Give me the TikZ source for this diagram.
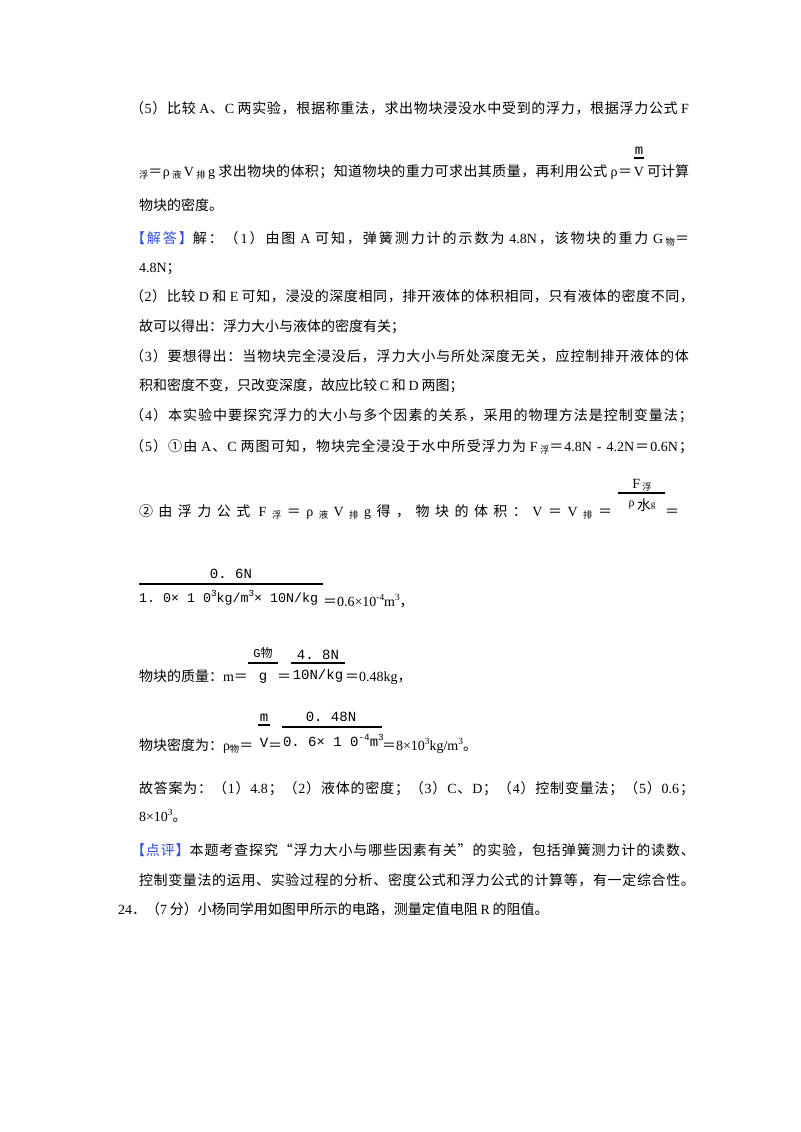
\documentclass[tikz,border=0pt]{standalone}
\usepackage{fontspec}
\setmainfont{Liberation Serif}
\setmonofont{Liberation Mono}
\newfontfamily\cjkf{Noto Sans CJK SC}
\definecolor{hdr}{RGB}{45,75,230}
\newXeTeXintercharclass\CJKid
\newXeTeXintercharclass\CJKpu
\newcount\cjkcnt
\def\setcjkrange#1#2#3{\cjkcnt=#1\relax\loop\XeTeXcharclass\cjkcnt=#3\advance\cjkcnt by 1\relax\ifnum\cjkcnt<#2\repeat}
\setcjkrange{"3000}{"3040}{\CJKpu}
\setcjkrange{"4E00}{"A000}{\CJKid}
\setcjkrange{"FF00}{"FFF0}{\CJKpu}
\setcjkrange{"2460}{"2474}{\CJKpu}
\XeTeXcharclass"201C=\CJKpu
\XeTeXcharclass"201D=\CJKpu
\def\curlat{\rmfamily}
\newcommand\cjkglue{\hskip0pt plus 1pt\relax}
\newcommand\mixglue{\hskip0.2em plus 1pt\relax}
\XeTeXinterchartoks 0 \CJKid = {\mixglue\cjkf}
\XeTeXinterchartoks \CJKid 0 = {\mixglue\curlat}
\XeTeXinterchartoks 0 \CJKpu = {\cjkglue\cjkf}
\XeTeXinterchartoks \CJKpu 0 = {\cjkglue\curlat}
\XeTeXinterchartoks 4095 \CJKid = {\cjkf}
\XeTeXinterchartoks 4095 \CJKpu = {\cjkf}
\XeTeXinterchartoks \CJKid 4095 = {\curlat}
\XeTeXinterchartoks \CJKpu 4095 = {\curlat}
\XeTeXinterchartoks 4095 0 = {\curlat}
\XeTeXinterchartoks \CJKid \CJKid = {\cjkglue}
\XeTeXinterchartoks \CJKid \CJKpu = {\cjkglue}
\XeTeXinterchartoks \CJKpu \CJKid = {\cjkglue}
\XeTeXinterchartoks \CJKpu \CJKpu = {\cjkglue}
\XeTeXinterchartokenstate=1
\newdimen\upx \upx=0.75pt
\newcommand\fs{\fontsize{10.5pt}{12pt}\selectfont}
\newcommand\jw[2]{\makebox[#1\upx][s]{#2}}
\newcommand\sub[1]{\raisebox{-1.5pt}{\fontsize{7pt}{8pt}\selectfont #1}}
\newcommand\sps[1]{\raisebox{3.8pt}{\fontsize{7pt}{8pt}\selectfont #1}}
\newcommand\mono{\def\curlat{\ttfamily}\ttfamily}
\newcommand\g{\hskip0pt plus 1pt\relax}
\newcommand\sg{\hskip1.5pt plus 1pt\relax}
\tikzset{
  tx/.style={anchor=base west,inner sep=0pt,outer sep=0pt,font=\fs},
  ctx/.style={tx,anchor=base},
  bar/.style={line width=0.8pt}
}
\begin{document}
\begin{tikzpicture}[x=0.75pt,y=-0.75pt]
\useasboundingbox (0,0) rectangle (800,1132);
\fill[white] (0,0) rectangle (800,1132);
% (5) analysis
\node[tx] (l1) at (130,113) {\jw{559}{（5）比较A、C两实验，根据称重法，求出物块浸没水中受到的浮力，根据浮力公式F}};
\node[tx] (l2a) at (139,176) {\jw{493}{\sub{浮}＝ρ\sg\sub{液}\sg V\sg\sub{排}\sg g求出物块的体积；知道物块的重力可求出其质量，再利用公式ρ＝}};
\node[ctx] (l2v) at (639,176) {V};
\node[ctx] (l2m) at (639,154) {\mono m};
\coordinate (b2a) at (634,158); \coordinate (b2b) at (644,158);
\draw[bar] (b2a) -- (b2b);
\node[tx,anchor=base east] (l2b) at (689,176) {可计算};
\node[tx] (l3) at (139,210) {物块的密度。};
% solution
\node[tx] (l4) at (131,243) {\jw{558}{\textcolor{hdr}{【解答】}解：（1）由图A可知，弹簧测力计的示数为4.8N，该物块的重力G\,\sub{物}＝}};
\node[tx] (l5) at (139,272) {4.8N；};
\node[tx] (l6) at (130,301) {\jw{564}{（2）比较D和E可知，浸没的深度相同，排开液体的体积相同，只有液体的密度不同，}};
\node[tx] (l7) at (139,331) {故可以得出：浮力大小与液体的密度有关；};
\node[tx] (l8) at (130,361) {\jw{559}{（3）要想得出：当物块完全浸没后，浮力大小与所处深度无关，应控制排开液体的体}};
\node[tx] (l9) at (139,390) {积和密度不变，只改变深度，故应比较C和D两图；};
\node[tx] (l10) at (130,420) {\jw{563}{（4）本实验中要探究浮力的大小与多个因素的关系，采用的物理方法是控制变量法；}};
\node[tx] (l11) at (130,451) {\jw{563}{（5）①由A、C两图可知，物块完全浸没于水中所受浮力为F\,\sub{浮}＝4.8N - 4.2N＝0.6N；}};
% (5) 2
\node[tx] (l12) at (139,516) {\jw{473}{②由浮力公式F\g\sub{浮}\g＝\g ρ\g\sub{液}\g V\g\sub{排}\g g\g 得，物块的体积：V＝V\g\sub{排}\g＝}};
\node[ctx] (f12n) at (642,488) {F\,\sub{浮}};
\coordinate (b12a) at (618,493); \coordinate (b12b) at (665,493);
\draw[bar] (b12a) -- (b12b);
\node[ctx] (f12d) at (642,510) {\raisebox{3pt}{\small ρ}\,水\raisebox{2pt}{\scriptsize g}};
\node[tx] (l12e) at (665,516) {＝};
% 0.6N fraction
\node[ctx] (f13n) at (231,578) {\mono 0. 6N};
\coordinate (b13a) at (139,584); \coordinate (b13b) at (323,584);
\draw[bar] (b13a) -- (b13b);
\node[tx] (f13d) at (139,602) {\mono\fontsize{10pt}{12pt}\selectfont 1. 0× 1 0\sps{3}kg/m\sps{3}× 10N/kg};
\node[tx] (l13e) at (323,606) {＝0.6×10\sps{-4}m\sps{3}，};
% mass
\node[tx] (l14) at (139,681) {物块的质量：m＝};
\node[ctx] (f14an) at (263,657) {\XeTeXinterchartokenstate=0 \ttfamily\fontsize{9pt}{10pt}\selectfont G\cjkf 物};
\coordinate (b14a) at (248,663); \coordinate (b14b) at (278,663);
\draw[bar] (b14a) -- (b14b);
\node[ctx] (f14ad) at (263,680) {\mono g};
\node[tx] (l14e) at (277,681) {＝};
\node[ctx] (f14bn) at (318,659) {\mono 4. 8N};
\coordinate (b14c) at (291,663); \coordinate (b14d) at (345,663);
\draw[bar] (b14c) -- (b14d);
\node[ctx] (f14bd) at (318,679) {\mono 10N/kg};
\node[tx] (l14f) at (345,681) {＝0.48kg，};
% density
\node[tx] (l15) at (139,750) {物块密度为：ρ\sub{物}＝};
\node[ctx] (f15an) at (264,721) {\mono m};
\coordinate (b15a) at (258,725); \coordinate (b15b) at (270,725);
\draw[bar] (b15a) -- (b15b);
\node[ctx] (f15ad) at (264,747) {\mono V};
\node[tx] (l15e) at (268,750) {＝};
\node[ctx] (f15bn) at (331,721) {\mono 0. 48N};
\coordinate (b15c) at (282,727); \coordinate (b15d) at (382,727);
\draw[bar] (b15c) -- (b15d);
\node[tx] (f15bd) at (283,746) {\mono 0. 6× 1 0\sps{-4}m\sps{3}};
\node[tx] (l15f) at (382,750) {＝8×10\sps{3}kg/m\sps{3}。};
% answers
\node[tx] (l16) at (139,793) {\jw{555}{故答案为：（1）4.8；（2）液体的密度；（3）C、D；（4）控制变量法；（5）0.6；}};
\node[tx] (l17) at (139,821) {8×10\sps{3}。};
\node[tx] (l18) at (131,855) {\jw{564}{\textcolor{hdr}{【点评】}本题考查探究“浮力大小与哪些因素有关”的实验，包括弹簧测力计的读数、}};
\node[tx] (l19) at (139,885) {\jw{556}{控制变量法的运用、实验过程的分析、密度公式和浮力公式的计算等，有一定综合性。}};
\node[tx] (l20) at (118,914) {24．（7分）小杨同学用如图甲所示的电路，测量定值电阻R的阻值。};
\end{tikzpicture}
\end{document}
